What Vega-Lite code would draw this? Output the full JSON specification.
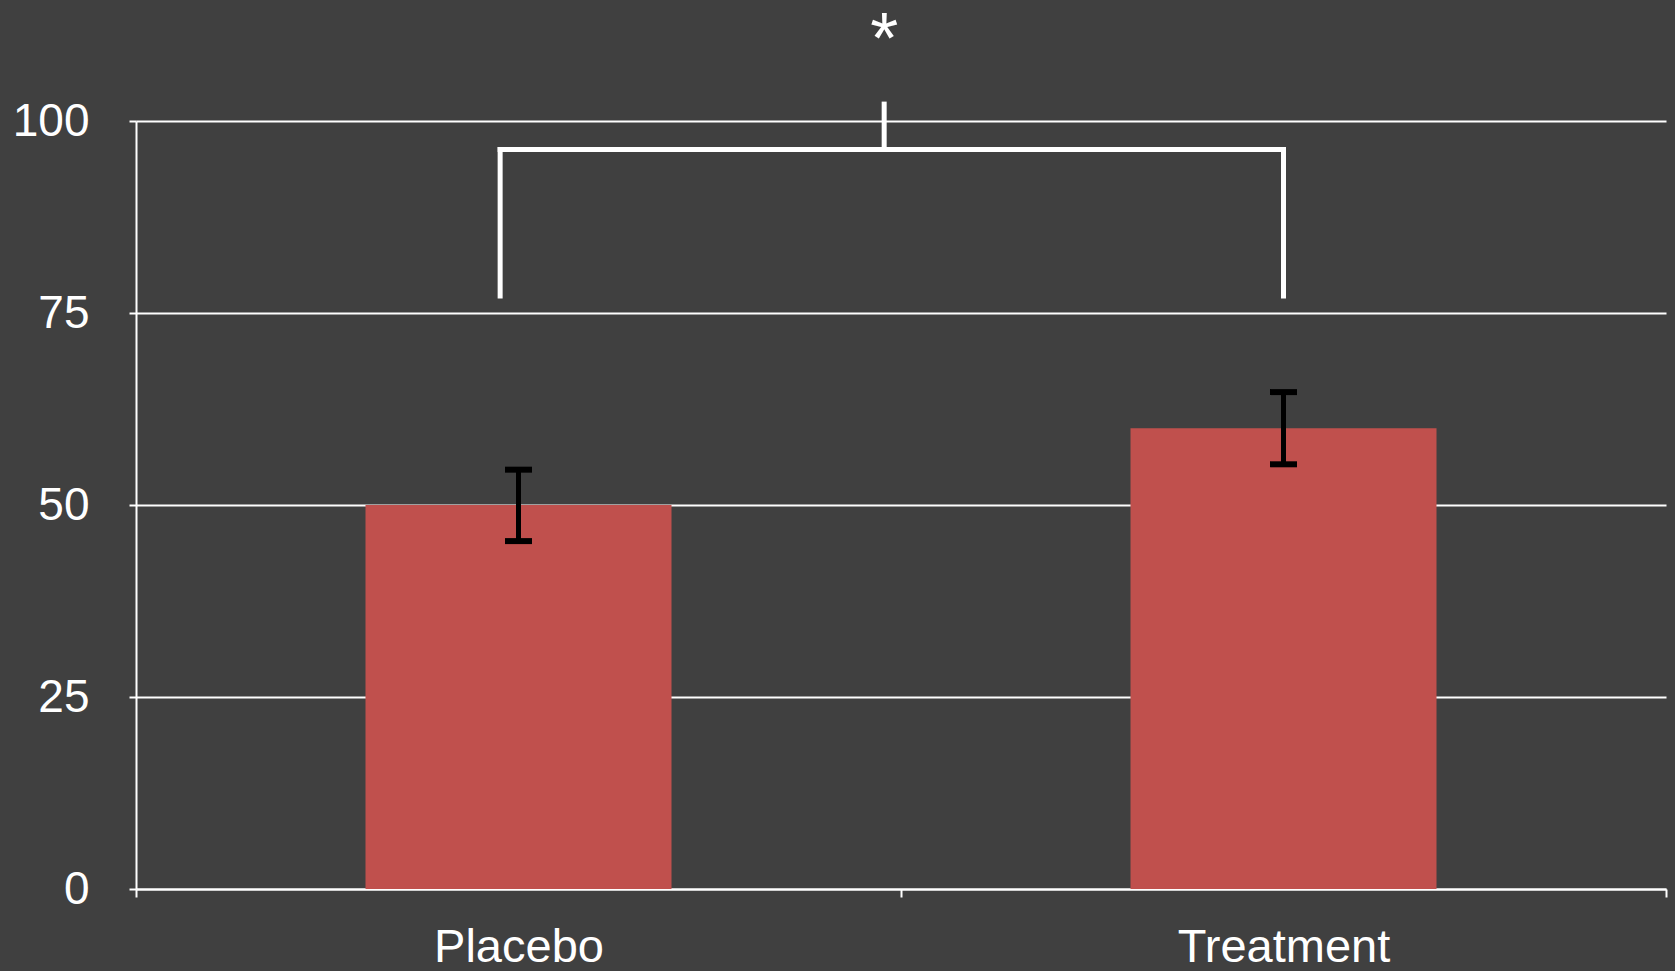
{
  "$schema": "https://vega.github.io/schema/vega-lite/v6.json",
  "autosize": {"type": "none"},
  "width": 1530,
  "height": 768,
  "padding": {"left": 136, "top": 121, "right": 9, "bottom": 82},
  "background": "#404040",
  "config": {
    "view": {"stroke": null},
    "font": "Liberation Sans"
  },
  "datasets": {
    "bars": [
      {"group": "Placebo", "mean": 50, "lo": 45.3, "hi": 54.6},
      {"group": "Treatment", "mean": 60, "lo": 55.3, "hi": 64.7}
    ],
    "bracket": [
      {"x1": 0.476, "x2": 0.476, "y1": 77.2, "y2": 96.3},
      {"x1": 0.476, "x2": 1.5, "y1": 96.3, "y2": 96.3},
      {"x1": 1.5, "x2": 1.5, "y1": 77.2, "y2": 96.3},
      {"x1": 0.978, "x2": 0.978, "y1": 96.3, "y2": 102.2}
    ],
    "star": [
      {"x": 0.978, "y": 107.5, "label": "*"}
    ]
  },
  "resolve": {"scale": {"x": "independent"}},
  "layer": [
    {
      "data": {"name": "bars"},
      "layer": [
        {
          "mark": {"type": "bar", "color": "#C0504D", "width": {"band": 0.4}},
          "encoding": {
            "x": {
              "field": "group", "type": "nominal",
              "scale": {"paddingInner": 0, "paddingOuter": 0},
              "axis": {
                "title": null, "labelAngle": 0, "labelColor": "#ffffff",
                "labelFontSize": 47, "labelPadding": 27, "labelLimit": 0,
                "tickBand": "extent", "tickColor": "#ffffff", "tickSize": 8, "tickWidth": 2,
                "domainColor": "#ffffff", "domainWidth": 2, "grid": false
              }
            },
            "y": {
              "field": "mean", "type": "quantitative",
              "scale": {"domain": [0, 100], "nice": false},
              "axis": {
                "title": null, "values": [0, 25, 50, 75, 100],
                "labelColor": "#ffffff", "labelFontSize": 46, "labelPadding": 40,
                "tickColor": "#ffffff", "tickSize": 7, "tickWidth": 2,
                "domainColor": "#ffffff", "domainWidth": 2,
                "grid": true, "gridColor": "#ffffff", "gridWidth": 2, "gridOpacity": 1
              }
            }
          }
        },
        {
          "mark": {"type": "rule", "color": "#000000", "strokeWidth": 5},
          "encoding": {
            "x": {"field": "group", "type": "nominal"},
            "y": {"field": "lo", "type": "quantitative"},
            "y2": {"field": "hi"}
          }
        },
        {
          "mark": {"type": "tick", "color": "#000000", "size": 27, "thickness": 6, "opacity": 1},
          "encoding": {
            "x": {"field": "group", "type": "nominal"},
            "y": {"field": "lo", "type": "quantitative"}
          }
        },
        {
          "mark": {"type": "tick", "color": "#000000", "size": 27, "thickness": 6, "opacity": 1},
          "encoding": {
            "x": {"field": "group", "type": "nominal"},
            "y": {"field": "hi", "type": "quantitative"}
          }
        }
      ]
    },
    {
      "data": {"name": "bracket"},
      "mark": {"type": "rule", "color": "#ffffff", "strokeWidth": 5, "strokeCap": "square"},
      "encoding": {
        "x": {"field": "x1", "type": "quantitative", "scale": {"domain": [0, 2], "nice": false, "zero": false}, "axis": null},
        "x2": {"field": "x2"},
        "y": {"field": "y1", "type": "quantitative"},
        "y2": {"field": "y2"}
      }
    },
    {
      "data": {"name": "star"},
      "mark": {"type": "text", "color": "#ffffff", "fontSize": 72, "baseline": "alphabetic", "align": "center"},
      "encoding": {
        "x": {"field": "x", "type": "quantitative", "scale": {"domain": [0, 2], "nice": false, "zero": false}, "axis": null},
        "y": {"field": "y", "type": "quantitative"},
        "text": {"field": "label"}
      }
    }
  ]
}
